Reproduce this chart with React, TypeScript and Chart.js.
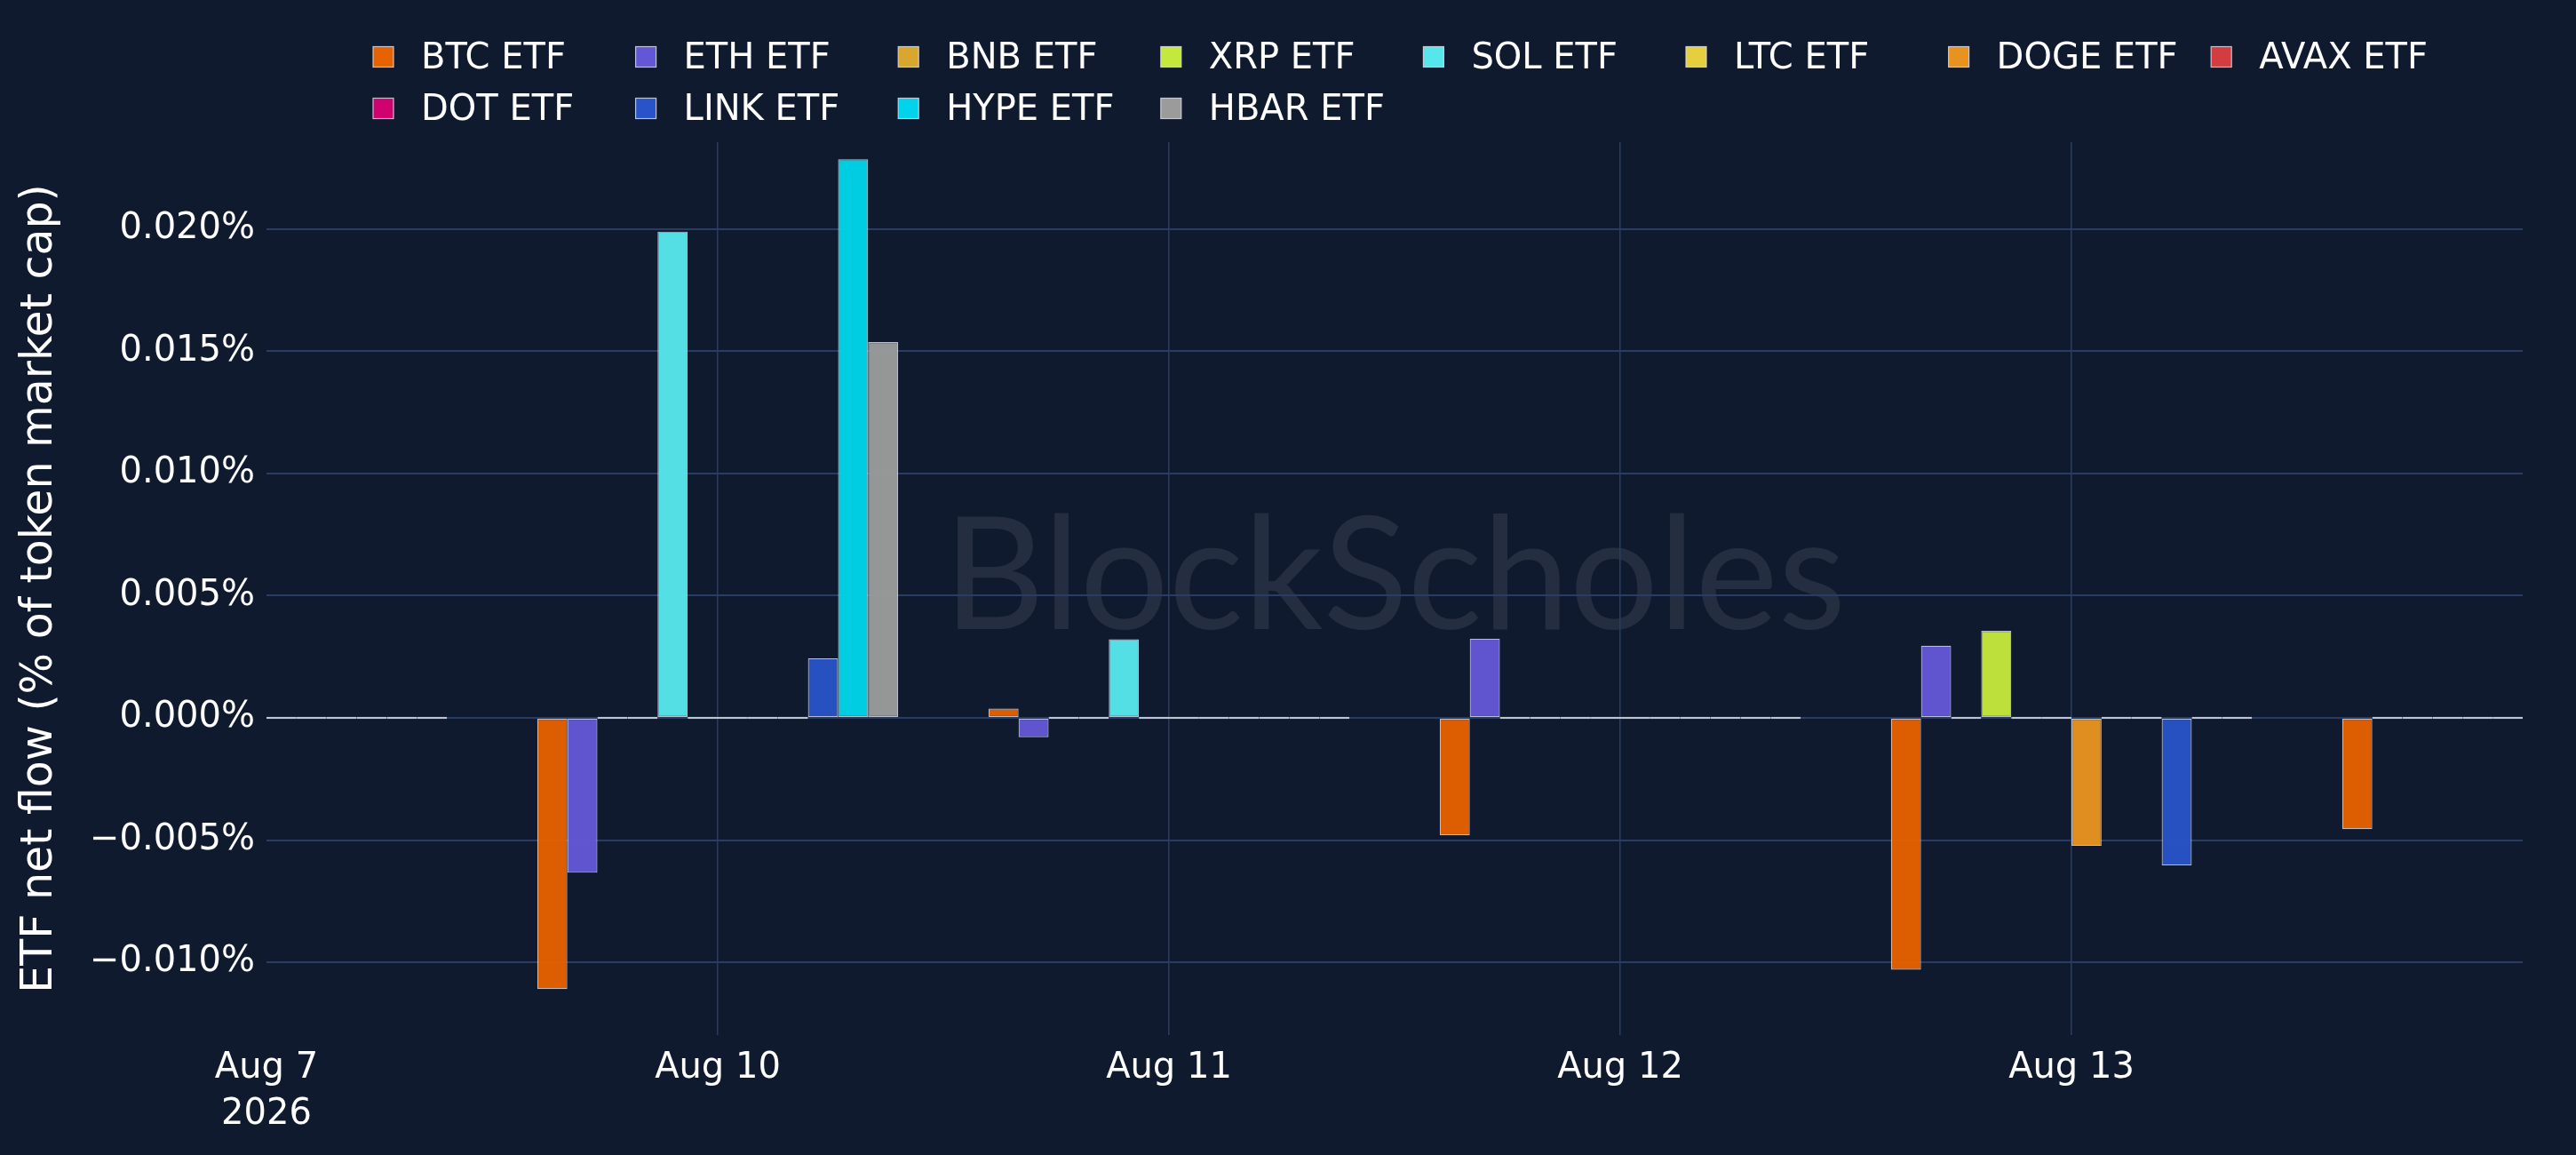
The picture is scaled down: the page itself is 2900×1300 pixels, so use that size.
import React, { useEffect, useRef } from 'react';
import { Chart, registerables } from 'chart.js';

// Register Chart.js components
Chart.register(...registerables);

Chart.defaults.font.family = '"DejaVu Sans", Verdana, sans-serif';

// trading days only (weekend Aug 8-9 is skipped), so x is a day index
const dayIndex = [0, 1, 2, 3, 4, 5];
const tickLabels: (string | string[])[] = [['Aug 7', '2026'], 'Aug 10', 'Aug 11', 'Aug 12', 'Aug 13'];

const seriesNames = [
  'BTC ETF', 'ETH ETF', 'BNB ETF', 'XRP ETF', 'SOL ETF', 'LTC ETF',
  'DOGE ETF', 'AVAX ETF', 'DOT ETF', 'LINK ETF', 'HYPE ETF', 'HBAR ETF',
];
const seriesColors = [
  '#e66100', '#6457d6', '#d9a62e', '#c5e83c', '#56e7ec', '#e6cf3c',
  '#e8931f', '#d43d3f', '#d1006f', '#2953c8', '#00d3ea', '#9b9b9b',
];

// net flow, % of token market cap, Aug 7 .. Aug 14
const btcFlow = [0, -0.0111, 0.00038, -0.00481, -0.01031, -0.00455];
const ethFlow = [0, -0.00634, -0.00079, 0.00324, 0.00295, 0];
const bnbFlow = [0, 0, 0, 0, 0, 0];
const xrpFlow = [0, 0, 0, 0, 0.00356, 0];
const solFlow = [0, 0.0199, 0.00322, 0, 0, 0];
const ltcFlow = [0, 0, 0, 0, 0, 0];
const dogeFlow = [0, 0, 0, 0, -0.00524, 0];
const avaxFlow = [0, 0, 0, 0, 0, 0];
const dotFlow = [0, 0, 0, 0, 0, 0];
const linkFlow = [0, 0.00244, 0, 0, -0.00604, 0];
const hypeFlow = [0, 0.02286, 0, 0, 0, 0];
const hbarFlow = [0, 0.01538, 0, 0, 0, 0];

const seriesValues = [
  btcFlow, ethFlow, bnbFlow, xrpFlow, solFlow, ltcFlow,
  dogeFlow, avaxFlow, dotFlow, linkFlow, hypeFlow, hbarFlow,
];

const BG = '#0f1a2e';
const GRID = '#283c64';
const EDGE = 'rgba(215, 220, 230, 0.85)';

function withAlpha(hex: string, a: number) {
  const n = parseInt(hex.slice(1), 16);
  return `rgba(${(n >> 16) & 255}, ${(n >> 8) & 255}, ${n & 255}, ${a})`;
}

function fmtPct(v: number) {
  const s = (Math.abs(v) < 1e-12 ? 0 : v).toFixed(3);
  return s.replace('-', '\u2212') + '%';
}

// background + faint watermark, under the grid
const backdrop = {
  id: 'backdrop',
  beforeDraw(chart: Chart) {
    const { ctx } = chart;
    ctx.save();
    ctx.fillStyle = BG;
    ctx.fillRect(0, 0, chart.width, chart.height);
    let size = 160;
    ctx.font = `${size}px Lato, sans-serif`;
    const w = ctx.measureText('BlockScholes').width;
    size = size * 1016 / w;
    ctx.font = `${size}px Lato, sans-serif`;
    ctx.fillStyle = 'rgba(255, 255, 255, 0.09)';
    ctx.textAlign = 'center';
    ctx.textBaseline = 'alphabetic';
    ctx.fillText('BlockScholes', 1570, 708);
    ctx.restore();
  },
};

// plotly-like legend: fixed-width columns, wrapping after 8 items
const columnLegend = {
  id: 'columnLegend',
  afterDraw(chart: Chart) {
    const { ctx } = chart;
    ctx.save();
    ctx.font = '40px "DejaVu Sans", Verdana, sans-serif';
    ctx.textAlign = 'left';
    ctx.textBaseline = 'middle';
    seriesNames.forEach((name, i) => {
      const x = 420 + (i % 8) * 295.6;
      const y = 64 + Math.floor(i / 8) * 58;
      ctx.fillStyle = seriesColors[i];
      ctx.fillRect(x, y - 11.5, 23, 23);
      ctx.strokeStyle = EDGE;
      ctx.lineWidth = 1.2;
      ctx.strokeRect(x, y - 11.5, 23, 23);
      ctx.fillStyle = '#ffffff';
      ctx.fillText(name, x + 54, y + 3);
    });
    ctx.restore();
  },
};

export default function App() {
  const chartRef = useRef<HTMLCanvasElement | null>(null);
  const chartInstanceRef = useRef<Chart | null>(null);

  useEffect(() => {
    if (!chartRef.current) return;
    if (chartInstanceRef.current) {
      chartInstanceRef.current.destroy();
    }
    const ctx = chartRef.current.getContext('2d');
    if (!ctx) return;

    chartInstanceRef.current = new Chart(ctx, {
      type: 'bar',
      data: {
        datasets: seriesNames.map((name, i) => ({
          label: name,
          data: seriesValues[i].map((v, j) => ({ x: dayIndex[j], y: v })),
          backgroundColor: withAlpha(seriesColors[i], 0.96),
          borderColor: EDGE,
        })),
      },
      options: {
        animation: false,
        responsive: true,
        maintainAspectRatio: false,
        layout: { padding: { top: 160, right: 60, bottom: 0, left: 0 } },
        datasets: {
          bar: {
            categoryPercentage: 0.8,
            barPercentage: 1,
            borderWidth: 1.2,
            borderSkipped: false,
            minBarLength: 2.4,
            clip: 0,
          },
        },
        plugins: {
          legend: { display: false },
          tooltip: { enabled: false },
        },
        scales: {
          x: {
            type: 'linear',
            min: 0,
            max: 5,
            offset: false,
            grid: {
              offset: false,
              drawTicks: false,
              lineWidth: 1.5,
              color: (c: any) => (c.tick && c.tick.value >= 1 && c.tick.value <= 4 ? GRID : 'rgba(0,0,0,0)'),
            },
            border: { display: false },
            ticks: {
              stepSize: 1,
              autoSkip: false,
              maxRotation: 0,
              color: '#ffffff',
              padding: 12,
              font: { size: 40, lineHeight: 1.3 },
              callback: (v: any) => tickLabels[v as number] ?? '',
            },
            afterFit: (s: any) => { s.height = 135; },
          },
          y: {
            min: -0.01298,
            max: 0.02356,
            grid: { color: GRID, lineWidth: 2, drawTicks: false },
            border: { display: false },
            ticks: {
              stepSize: 0.005,
              includeBounds: false,
              color: '#ffffff',
              padding: 13,
              font: { size: 40 },
              callback: (v: any) => fmtPct(Number(v)),
            },
            title: {
              display: true,
              text: 'ETF net flow (% of token market cap)',
              color: '#ffffff',
              font: { size: 49 },
              padding: { top: 16, bottom: 0 },
            },
            afterFit: (s: any) => { s.width = 300; },
          },
        },
      } as any,
      plugins: [backdrop, columnLegend],
    });

    return () => {
      if (chartInstanceRef.current) {
        chartInstanceRef.current.destroy();
        chartInstanceRef.current = null;
      }
    };
  }, []);

  return (
    <div style={{ position: 'fixed', left: 0, top: 0, width: 2900, height: 1300, background: BG }}>
      <canvas ref={chartRef} />
    </div>
  );
}
